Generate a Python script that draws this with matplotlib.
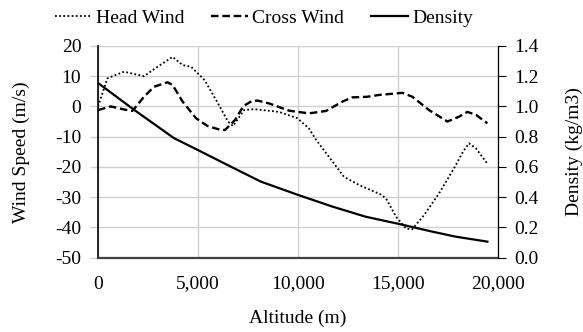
import matplotlib
matplotlib.use("Agg")
import matplotlib.pyplot as plt

# Head wind (m/s) vs altitude (m)
head_alt = [0, 470, 1300, 2300, 2970, 3730, 4230, 4660, 5330, 6000, 6500, 6750,
            7300, 7800, 9050, 9970, 10550, 10900, 11550, 12300, 13050, 14200,
            14450, 14900, 15400, 15700, 16300, 17050, 17800, 18250, 18550,
            18900, 19450]
head_wind = [0, 9.3, 11.5, 10.0, 13.1, 16.4, 13.7, 13.1, 8.7, 1.0, -5.0, -6.5,
             -1.2, -0.9, -1.8, -3.9, -7.3, -11.0, -16.7, -23.3, -26.0, -29.3,
             -31.0, -36.5, -40.4, -40.7, -36.0, -28.8, -20.5, -15.0, -12.2,
             -13.9, -18.8]

# Cross wind (m/s) vs altitude (m)
cross_alt = [0, 640, 1300, 1720, 2300, 2800, 3470, 3730, 4230, 4900, 5480, 6150,
             6350, 6850, 7270, 7720, 8000, 8550, 9550, 10550, 11400, 12220,
             12720, 13470, 14050, 15220, 15720, 16550, 17470, 18050, 18470,
             18900, 19470]
cross_wind = [-1.2, 0.0, -1.0, -1.5, 3.2, 6.5, 8.0, 7.1, 1.6, -3.9, -6.5, -7.8,
              -7.8, -4.5, 0.1, 1.9, 1.9, 1.0, -1.4, -2.3, -1.5, 1.6,
              3.0, 3.2, 3.8, 4.5, 3.2, -1.2, -5.0, -3.4, -1.8,
              -2.8, -5.6]

# Air density (kg/m3) vs altitude (m)
dens_alt = [0, 1800, 3800, 4970, 6630, 8130, 10050, 11720, 13380, 15050,
            16720, 17880, 19470]
density = [1.155, 0.978, 0.79, 0.713, 0.602, 0.503, 0.412, 0.337, 0.27, 0.222,
           0.171, 0.138, 0.105]

plt.rcParams["font.family"] = ["Liberation Serif", "DejaVu Serif"]
plt.rcParams["font.size"] = 14
plt.rcParams["axes.unicode_minus"] = False

fig = plt.figure(figsize=(5.83, 3.32), dpi=100)
ax = fig.add_axes([98 / 583, 1 - 257.5 / 332, 400 / 583, 211.5 / 332])
ax2 = ax.twinx()

grid_col = "#d0d0d0"

l1, = ax.plot(head_alt, head_wind, color="black", lw=1.3,
              linestyle=(0, (1, 1.3)), label="Head Wind")
l2, = ax.plot(cross_alt, cross_wind, color="black", lw=1.7,
              linestyle=(0, (3.2, 1.6)), label="Cross Wind")
l3, = ax2.plot(dens_alt, density, color="black", lw=1.6, label="Density")

ax.set_xlim(0, 20000)
ax.set_ylim(-50, 20)
ax2.set_ylim(0, 1.4)
ax.set_xticks([0, 5000, 10000, 15000, 20000])
ax.set_xticklabels(["0", "5,000", "10,000", "15,000", "20,000"])
ax.set_yticks(range(-50, 21, 10))
ax2.set_yticks([0.0, 0.2, 0.4, 0.6, 0.8, 1.0, 1.2, 1.4])
ax2.set_yticklabels([f"{v:.1f}" for v in ax2.get_yticks()])

ax.grid(True, color=grid_col, lw=1.0)
ax.set_axisbelow(True)

ax.tick_params(axis="x", length=0, pad=13)
ax.tick_params(axis="y", length=6, width=1, color=grid_col, pad=6)
ax2.tick_params(axis="y", length=6, width=0.8, color="black", pad=6)

for a in (ax, ax2):
    a.spines["top"].set_visible(False)
ax.spines["right"].set_visible(False)
ax2.spines["left"].set_visible(False)
ax2.spines["bottom"].set_visible(False)
ax.spines["left"].set_color("black")
ax.spines["left"].set_linewidth(1.2)
ax.spines["bottom"].set_color("#404040")
ax.spines["bottom"].set_linewidth(1.6)
ax2.spines["right"].set_color("black")
ax2.spines["right"].set_linewidth(0.9)

ax.set_xlabel("Altitude (m)")
ax.xaxis.set_label_coords(0.5, -0.245)
ax.set_ylabel("Wind Speed (m/s)")
ax.yaxis.set_label_coords(-0.17, 0.5)
ax2.set_ylabel("Density (kg/m3)")
ax2.yaxis.set_label_coords(1.168, 0.5)

fig.legend(handles=[l1, l2, l3], loc="center", ncol=3, frameon=False,
           bbox_to_anchor=(264 / 583, 1 - 18 / 332), handlelength=1.9,
           handletextpad=0.2, columnspacing=1.4, borderaxespad=0)

fig.savefig("out.png", dpi=100)
